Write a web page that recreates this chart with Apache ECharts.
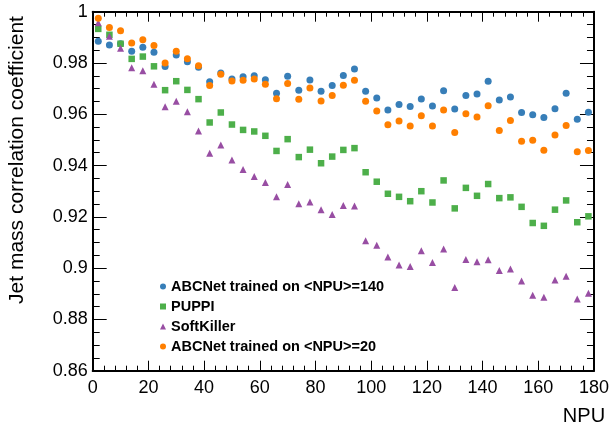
<!DOCTYPE html>
<html>
<head>
<meta charset="utf-8">
<script src="https://cdn.jsdelivr.net/npm/echarts@6/dist/echarts.min.js"></script>
<style>
  html, body { margin: 0; padding: 0; background: #fff; }
  #chart { width: 612px; height: 429px; }
</style>
</head>
<body>
<div id="chart"></div>
<script>
// NPU bins (x values)
const npu = [2, 6, 10, 14, 18, 22, 26, 30, 34, 38, 42, 46, 50, 54, 58, 62, 66, 70, 74, 78, 82, 86, 90,
  94, 98, 102, 106, 110, 114, 118, 122, 126, 130, 134, 138, 142, 146, 150, 154, 158, 162, 166, 170, 174, 178];

// ABCNet trained on <NPU>=140
const abc140 = [0.9885, 0.9870, 0.9875, 0.9846, 0.9861, 0.9842, 0.9786, 0.9831, 0.9805, 0.9783, 0.9727,
  0.9761, 0.9738, 0.9746, 0.9750, 0.9735, 0.9682, 0.9748, 0.9694, 0.9734, 0.9690, 0.9712, 0.9751, 0.9777,
  0.9690, 0.9663, 0.9617, 0.9638, 0.9630, 0.9660, 0.9632, 0.9692, 0.9621, 0.9673, 0.9679, 0.9729, 0.9656,
  0.9667, 0.9607, 0.9598, 0.9587, 0.9622, 0.9682, 0.9581, 0.9608];

// PUPPI
const puppi = [0.9933, 0.9910, 0.9875, 0.9816, 0.9825, 0.9787, 0.9694, 0.9729, 0.9695, 0.9659, 0.9568,
  0.9607, 0.9560, 0.9539, 0.9533, 0.9516, 0.9457, 0.9503, 0.9433, 0.9462, 0.9409, 0.9435, 0.9461, 0.9468,
  0.9374, 0.9337, 0.9290, 0.9278, 0.9261, 0.9300, 0.9256, 0.9342, 0.9233, 0.9313, 0.9282, 0.9328, 0.9273,
  0.9276, 0.9239, 0.9176, 0.9165, 0.9228, 0.9264, 0.9179, 0.9202];

// SoftKiller
const softKiller = [0.9957, 0.9904, 0.9857, 0.9781, 0.9770, 0.9717, 0.9629, 0.9651, 0.9610, 0.9535, 0.9448,
  0.9480, 0.9422, 0.9385, 0.9357, 0.9334, 0.9278, 0.9326, 0.9251, 0.9258, 0.9228, 0.9209, 0.9244, 0.9242,
  0.9107, 0.9089, 0.9043, 0.9012, 0.9006, 0.9068, 0.9022, 0.9075, 0.8924, 0.9034, 0.9025, 0.9033, 0.8991,
  0.8997, 0.8950, 0.8894, 0.8886, 0.8954, 0.8968, 0.8880, 0.8902];

// ABCNet trained on <NPU>=20
const abc20 = [0.9974, 0.9938, 0.9926, 0.9878, 0.9891, 0.9868, 0.9800, 0.9846, 0.9817, 0.9789, 0.9712,
  0.9756, 0.9730, 0.9733, 0.9738, 0.9717, 0.9661, 0.9720, 0.9659, 0.9702, 0.9652, 0.9673, 0.9713, 0.9733,
  0.9651, 0.9613, 0.9559, 0.9574, 0.9554, 0.9594, 0.9554, 0.9617, 0.9529, 0.9602, 0.9589, 0.9633, 0.9537,
  0.9576, 0.9495, 0.9499, 0.9460, 0.9519, 0.9556, 0.9454, 0.9459];

const names = ['ABCNet trained on <NPU>=140', 'PUPPI', 'SoftKiller', 'ABCNet trained on <NPU>=20'];
const font = '"Liberation Sans", Arial, sans-serif';

const pairs = vals => vals.map((v, i) => [npu[i], v]);

function xAxisDef(pos, labels) {
  return {
    type: 'value', position: pos, min: 0, max: 180, interval: 20,
    axisLine: { show: true, onZero: false, lineStyle: { color: '#000', width: 2 } },
    axisTick: { show: true, inside: true, length: 10, lineStyle: { color: '#000', width: 1 } },
    minorTick: { show: true, splitNumber: 5, length: 5, lineStyle: { color: '#000', width: 1 } },
    axisLabel: { show: labels, color: '#000', fontSize: 18, fontFamily: font, margin: 8 },
    splitLine: { show: false }
  };
}

function yAxisDef(pos, labels) {
  return {
    type: 'value', position: pos, min: 0.86, max: 1, interval: 0.02,
    axisLine: { show: true, onZero: false, lineStyle: { color: '#000', width: 2 } },
    axisTick: { show: true, inside: true, length: 14, lineStyle: { color: '#000', width: 1 } },
    minorTick: { show: true, splitNumber: 4, length: 7, lineStyle: { color: '#000', width: 1 } },
    axisLabel: {
      show: labels, color: '#000', fontSize: 18, fontFamily: font, margin: 5,
      formatter: v => String(+v.toFixed(2))
    },
    splitLine: { show: false }
  };
}

const chart = echarts.init(document.getElementById('chart'), null, { renderer: 'canvas' });

const xBottom = xAxisDef('bottom', true);
xBottom.name = 'NPU';
xBottom.nameLocation = 'end';
xBottom.nameGap = -10;
xBottom.nameTextStyle = { color: '#000', fontSize: 20, fontFamily: font, align: 'center', verticalAlign: 'top', padding: [36, 0, 0, 0] };

chart.setOption({
  animation: false,
  backgroundColor: '#fff',
  grid: { left: 92.7, right: 15.3, top: 11.7, bottom: 58.3, containLabel: false },
  xAxis: [xBottom, xAxisDef('top', false)],
  yAxis: [yAxisDef('left', true), yAxisDef('right', false)],
  legend: {
    orient: 'vertical', left: 155, top: 274,
    itemWidth: 6, itemHeight: 6, itemGap: 5,
    textStyle: { color: '#000', fontSize: 14.5, fontWeight: 'bold', fontFamily: font, lineHeight: 14 },
    data: [
      { name: names[0], icon: 'circle' },
      { name: names[1], icon: 'rect' },
      { name: names[2], icon: 'triangle' },
      { name: names[3], icon: 'circle' }
    ]
  },
  graphic: [{
    type: 'text', x: 17, y: 160, rotation: Math.PI / 2,
    style: { text: 'Jet mass correlation coefficient', fill: '#000', fontSize: 21, fontFamily: font, align: 'center', verticalAlign: 'middle' }
  }],
  series: [
    { name: names[0], type: 'scatter', symbol: 'circle', symbolSize: 7, itemStyle: { color: '#377eb8', opacity: 1 }, data: pairs(abc140) },
    { name: names[1], type: 'scatter', symbol: 'rect', symbolSize: 6.5, itemStyle: { color: '#4daf4a', opacity: 1 }, data: pairs(puppi) },
    { name: names[2], type: 'scatter', symbol: 'triangle', symbolSize: 7, itemStyle: { color: '#984ea3', opacity: 1 }, data: pairs(softKiller) },
    { name: names[3], type: 'scatter', symbol: 'circle', symbolSize: 7, itemStyle: { color: '#ff7f00', opacity: 1 }, data: pairs(abc20) }
  ]
});
</script>
</body>
</html>
